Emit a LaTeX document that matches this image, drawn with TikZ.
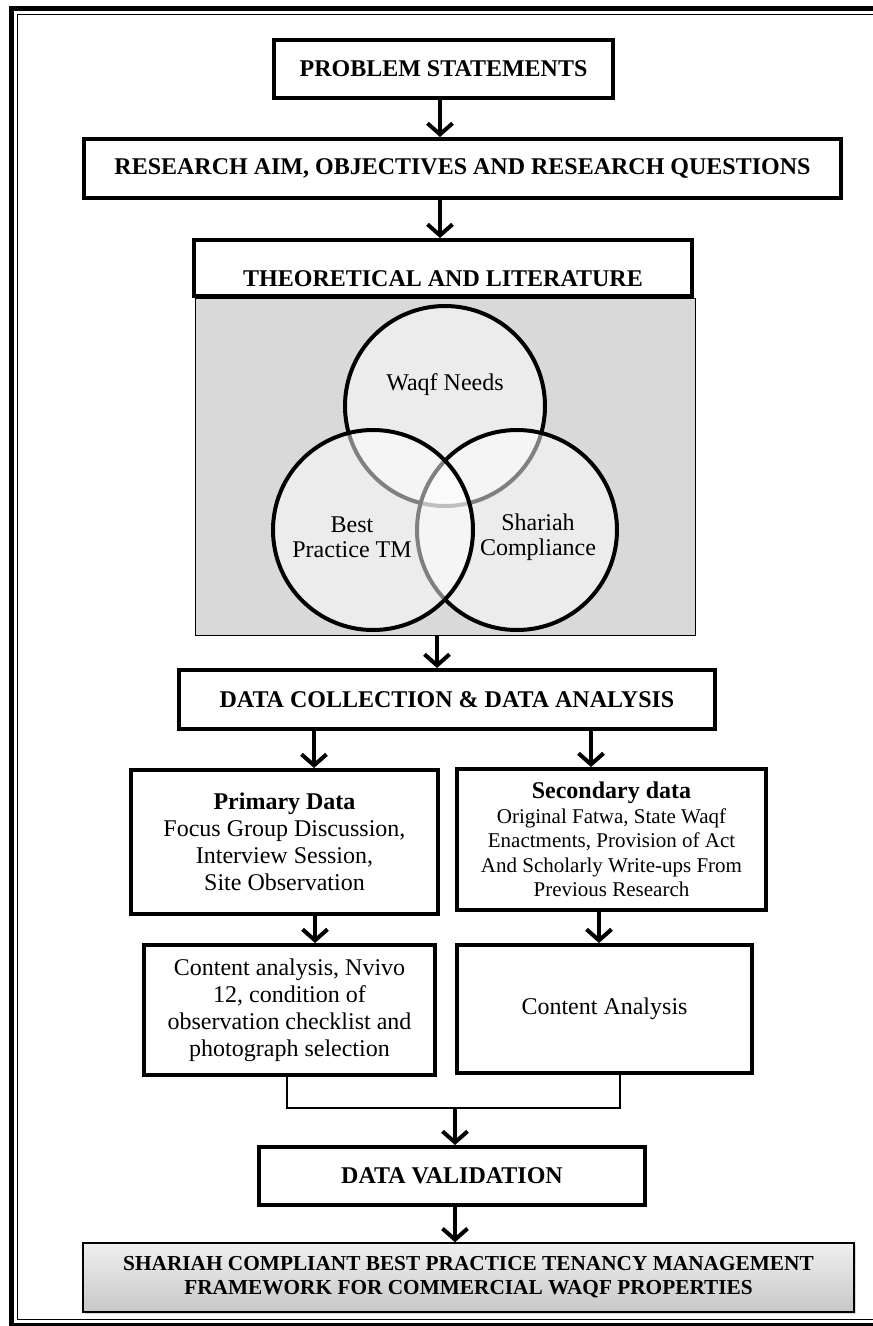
\documentclass[tikz,border=0pt]{standalone}
\usepackage{fontspec}
\setmainfont{Liberation Serif}
\usetikzlibrary{arrows.meta, positioning, calc, shadows}
\definecolor{venngray}{RGB}{217,217,217}

\begin{document}
\begin{tikzpicture}[x=1pt, y=-1pt,
    box/.style={draw, line width=4pt, fill=white, inner sep=2pt, align=center,
        drop shadow={shadow xshift=2pt, shadow yshift=-2pt, opacity=0.25}},
    headtxt/.style={font=\fontsize{24}{27}\selectfont\bfseries},
    bodytxt/.style={font=\fontsize{24}{27}\selectfont},
    flow/.style={line width=4pt, -{Straight Barb[length=11pt, width=25pt]}},
    venn/.style={circle, draw, line width=4pt, minimum size=200pt, fill=white, fill opacity=0.5}]
    \useasboundingbox (0,0) rectangle (873,1326);

    % Page frame (double line, runs off on the right)
    \draw[line width=4.5pt] (873,8.5) -| (11.5,1325) -- (873,1325);
    \draw[line width=1pt] (873,14) -| (17.5,1319.5) -- (873,1319.5);

    % Column positions of the arrows
    \coordinate (colA) at (440,0);
    \coordinate (colB) at (437,0);
    \coordinate (priX) at (314,0);
    \coordinate (secX) at (591,0);
    \coordinate (priY) at (315,0);
    \coordinate (secY) at (599,0);
    \coordinate (jn) at (455,1108);

    % Top of the flow
    \node[box, headtxt, minimum width=339pt, minimum height=58pt] (prob) at (443.5,69) {PROBLEM STATEMENTS};
    \node[box, headtxt, minimum width=757pt, minimum height=59pt] (res) at (462.5,168.5) {RESEARCH AIM, OBJECTIVES AND RESEARCH QUESTIONS};

    % Theory and literature (Venn)
    \node[draw, line width=1.2pt, fill=venngray, minimum width=500pt, minimum height=337pt] (litbg) at (445.5,467) {};
    \node[venn] (waqf) at (445,406) {};
    \node[venn] (sharia) at (517,530) {};
    \node[venn] (best) at (373,530) {};
    \node[bodytxt] (waqftxt) at (445,385) {Waqf Needs};
    \node[font=\fontsize{24}{25}\selectfont, align=center] (besttxt) at (352,537) {Best\\Practice TM};
    \node[font=\fontsize{24}{25}\selectfont, align=center] (shartxt) at (538,537) {Shariah\\Compliance};
    \node[box, headtxt, minimum width=498pt, minimum height=56pt, text height=36pt, text depth=0pt] (theo) at (443,268) {THEORETICAL AND LITERATURE};

    % Data collection and analysis
    \node[box, headtxt, minimum width=536pt, minimum height=59pt] (coll) at (447,699.5) {DATA COLLECTION \& DATA ANALYSIS};
    \node[box, bodytxt, minimum width=307pt, minimum height=144pt] (pri) at (284.5,842)
        {\textbf{Primary Data}\\Focus Group Discussion,\\Interview Session,\\Site Observation};
    \node[box, font=\fontsize{21}{24.5}\selectfont, minimum width=309pt, minimum height=141pt] (sec) at (611.5,839.5)
        {{\fontsize{24}{27}\selectfont\bfseries Secondary data}\\Original Fatwa, State Waqf\\Enactments, Provision of Act\\And Scholarly Write-ups From\\Previous Research};
    \node[box, bodytxt, minimum width=291pt, minimum height=130pt] (cl) at (289.5,1010)
        {Content analysis, Nvivo\\12, condition of\\observation checklist and\\photograph selection};
    \node[box, bodytxt, minimum width=295pt, minimum height=128pt] (cr) at (604.5,1009) {Content Analysis};

    % Validation and result
    \node[box, headtxt, minimum width=386pt, minimum height=58pt] (valid) at (452,1176) {DATA VALIDATION};
    \node[draw, line width=1.5pt, top color=gray!12, bottom color=gray!44, align=center,
        drop shadow={shadow xshift=2pt, shadow yshift=-2pt, opacity=0.3},
        font=\fontsize{21.3}{24}\selectfont\bfseries, minimum width=771pt, minimum height=69pt] (result) at (468.5,1277.5)
        {SHARIAH COMPLIANT BEST PRACTICE TENANCY MANAGEMENT\\FRAMEWORK FOR COMMERCIAL WAQF PROPERTIES};

    % Arrows
    \draw[flow] (prob.south -| colA) -- (res.north -| colA);
    \draw[flow] (res.south -| colA) -- (theo.north -| colA);
    \draw[flow] (litbg.south -| colB) -- (coll.north -| colB);
    \draw[flow] (coll.south -| priX) -- (pri.north -| priX);
    \draw[flow] (coll.south -| secX) -- (sec.north -| secX);
    \draw[flow] (pri.south -| priY) -- (cl.north -| priY);
    \draw[flow] (sec.south -| secY) -- (cr.north -| secY);
    \draw[line width=1.5pt] ([xshift=-2.5pt]cl.south) |- (jn) -| ([xshift=15.5pt]cr.south);
    \draw[flow] (jn) -- (valid.north -| jn);
    \draw[flow] (valid.south -| jn) -- (result.north -| jn);
\end{tikzpicture}
\end{document}
